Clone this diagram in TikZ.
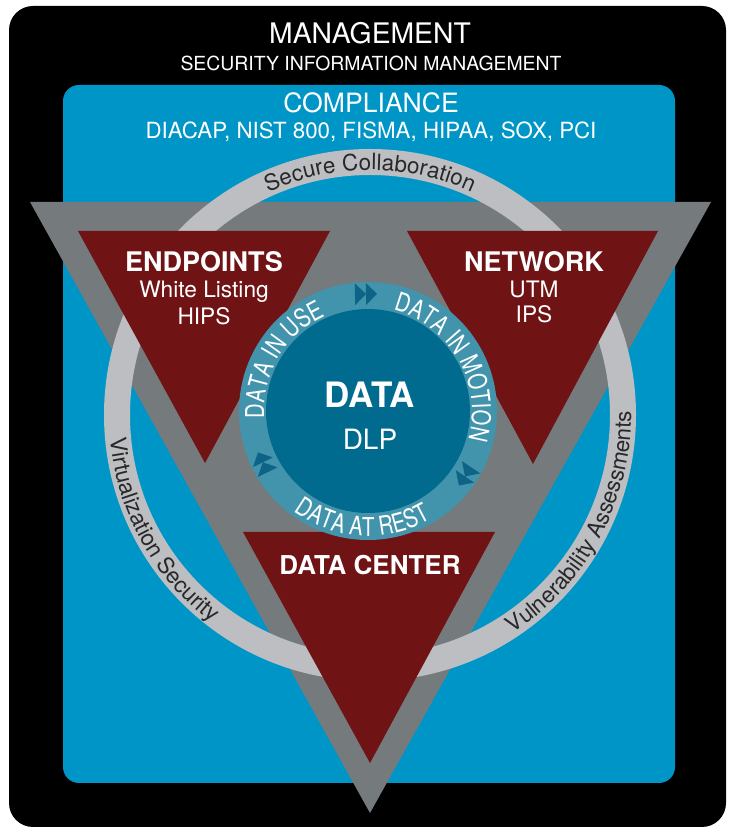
\documentclass[tikz,border=0pt]{standalone}
\usepackage{fontspec}
\setmainfont{TeX Gyre Heros}
\newfontfamily\condfont[FakeStretch=0.78]{TeX Gyre Heros}
\usepackage{tikz}
\usetikzlibrary{decorations.text,positioning}
\definecolor{mgtblack}{RGB}{0,0,0}
\definecolor{compblue}{RGB}{0,149,199}
\definecolor{trigray}{RGB}{117,122,125}
\definecolor{ringgray}{RGB}{188,190,193}
\definecolor{secred}{RGB}{111,19,21}
\definecolor{dataring}{RGB}{66,148,172}
\definecolor{datacore}{RGB}{0,107,143}
\definecolor{chevcol}{RGB}{14,100,134}
\definecolor{ringtext}{RGB}{40,40,40}
\newcommand{\fsz}[1]{\fontsize{#1}{#1}\selectfont}
\tikzstyle{head}=[text=white, anchor=base, inner sep=0pt]
\tikzstyle{redtri}=[fill=secred]
\tikzstyle{chev}=[fill=chevcol]
\tikzstyle{outertxt}=[decorate, decoration={text along path, text align=center, text color=ringtext}]
\tikzstyle{innertxt}=[decorate, decoration={text along path, text align=center, text color=white}]

\begin{document}
\begin{tikzpicture}[x=1pt,y=1pt]
\useasboundingbox (0,0) rectangle (729,828);
\coordinate (rc) at (370,413);
\coordinate (dc) at (368,417);
% frames
\fill[mgtblack, rounded corners=24] (9,1) rectangle (726,822);
\fill[compblue, rounded corners=16] (63,45) rectangle (675,743);
\node (mgmt) [head] at (370,784) {\fsz{28.3}MANAGEMENT};
\node (sim) [head] at (371,757) {\fsz{19.4}SECURITY INFORMATION MANAGEMENT};
\node (compl) [head] at (371,715) {\fsz{26.6}COMPLIANCE};
\node (regs) [head] at (371,689) {\fsz{22.3}DIACAP, NIST 800, FISMA, HIPAA, SOX, PCI};
% big triangle and ring
\fill[trigray] (30,626) -- (711,626) -- (370,15) -- cycle;
\draw[ringgray, line width=26] (rc) circle[radius=253];
\path[outertxt, decoration={text={|\fsz{22.5}|Secure Collaboration}}]
  (rc) ++(140:245) arc[start angle=140, end angle=40, radius=245];
\path[outertxt, decoration={text={|\fsz{22.5}|Virtualization Security}}]
  (rc) ++(168:261) arc[start angle=168, end angle=250, radius=261];
\path[outertxt, decoration={text={|\fsz{22.5}|Vulnerability Assessments}}]
  (rc) ++(288:261) arc[start angle=288, end angle=376, radius=261];
% red triangles
\fill[redtri] (78,597) -- (330,597) -- (205,365) -- cycle;
\fill[redtri] (407,597) -- (658,597) -- (533,364) -- cycle;
\fill[redtri] (243,296) -- (495,296) -- (370,65) -- cycle;
\node (endp) [head] at (204,556) {\fsz{27}\bfseries ENDPOINTS};
\node (wlist) [head] at (204,530) {\fsz{22.7}White Listing};
\node (hips) [head] at (204,503) {\fsz{22.7}HIPS};
\node (netw) [head] at (534,556) {\fsz{27}\bfseries NETWORK};
\node (utm) [head] at (534,530) {\fsz{22.7}UTM};
\node (ips) [head] at (534,505) {\fsz{22.7}IPS};
\node (dcen) [head] at (370,253) {\fsz{26}\bfseries DATA CENTER};
% data core
\fill[dataring] (dc) circle[radius=129];
\fill[datacore] (dc) circle[radius=102];
\path[innertxt, decoration={text={|\condfont\fsz{26}|DATA IN USE}}]
  (dc) ++(199:104) arc[start angle=199, end angle=99, radius=104];
\path[innertxt, decoration={text={|\condfont\fsz{26}|DATA IN MOTION}}]
  (dc) ++(87:104) arc[start angle=87, end angle=-27, radius=104];
\path[innertxt, decoration={text={|\condfont\fsz{26}|DATA AT REST}}]
  (dc) ++(215:125) arc[start angle=215, end angle=319, radius=125];
\foreach \a in {91,206,326}
  \fill[chev, shift={(dc)}, rotate=\a] (106,11) -- (128,11) -- (117,0) -- cycle
    (106,0) -- (128,0) -- (117,-11) -- cycle;
\node (data) [head] at (370,420) {\fsz{35}\bfseries DATA};
\node (dlp) [head] at (370,378) {\fsz{28}DLP};
\end{tikzpicture}
\end{document}
